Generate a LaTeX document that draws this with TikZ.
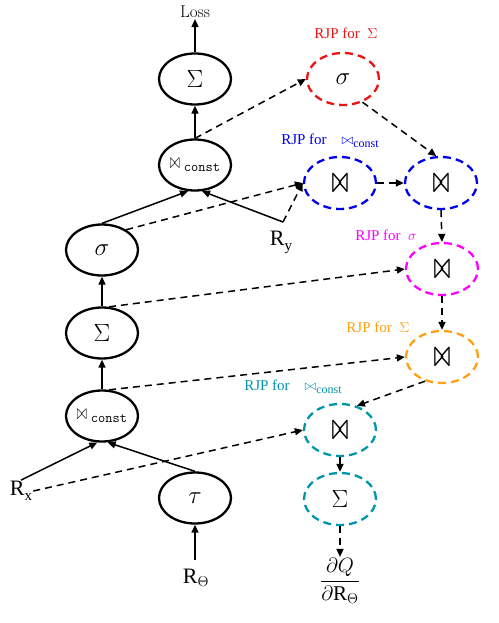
\documentclass[tikz,border=0pt]{standalone}
\usepackage{graphicx}
\usepackage{fontspec}
\newfontfamily\tms{Liberation Serif}
\usetikzlibrary{shapes.geometric,arrows.meta}
\definecolor{rjpred}{RGB}{235,20,20}
\definecolor{rjpblue}{RGB}{0,0,235}
\definecolor{rjpmag}{RGB}{255,0,255}
\definecolor{rjporange}{RGB}{255,160,20}
\definecolor{rjpteal}{RGB}{0,150,170}
\newcommand\mybtg{\resizebox{16pt}{18pt}{$\bowtie$}}
\newcommand\mybt{\makebox[0pt][l]{\mybtg}\kern0.5pt\mybtg}
\newcommand\mybwc{\resizebox{10pt}{10pt}{$\bowtie$}\,{\fontsize{14}{16}\selectfont\raisebox{-3pt}{\texttt{const}}}}
\begin{document}
\begin{tikzpicture}[x=1pt,y=-1pt,
  op/.style={ellipse, draw, line width=2.3pt, minimum width=72pt, minimum height=51pt, inner sep=0pt, font=\fontsize{24}{28}\selectfont},
  rjp/.style={ellipse, draw, line width=2.3pt, dash pattern=on 8pt off 5pt, minimum width=72pt, minimum height=52pt, inner sep=0pt, font=\fontsize{24}{28}\selectfont},
  arr/.style={-{Triangle[length=8pt,width=7pt]}, line width=1.5pt},
  darr/.style={arr, dash pattern=on 7pt off 5pt},
  lbl/.style={font=\tms\fontsize{15}{17}\selectfont},
  rlbl/.style={font=\fontsize{22}{26}\selectfont, inner sep=1pt}]
\useasboundingbox (0,0) rectangle (498,623);
% left column
\node[font=\fontsize{17}{20}\selectfont, inner sep=1pt] (loss) at (195,12) {Loss};
\node[op] (st) at (195,79) {$\Sigma$};
\node[op] (ct) at (195,165) {\mybwc};
\node[op] (sg) at (102,250) {$\sigma$};
\node[op] (sm) at (102,333) {$\Sigma$};
\node[op] (cl) at (102,416) {\mybwc};
\node[op] (tau) at (195,498) {$\tau$};
\node[rlbl] (rt) at (196,578) {{\tms R}$_{\Theta}$};
\coordinate (rtc) at (195,560);
\node[rlbl] (rx) at (21,491) {{\tms R}\raisebox{-5pt}{\tms\fontsize{15}{16}\selectfont x}};
\node[rlbl] (ry) at (281,242) {{\tms R}\raisebox{-5pt}{\tms\fontsize{15}{16}\selectfont y}};
\coordinate (ryc) at (283,222);
% right column
\node[rjp, draw=rjpred] (r1) at (343,79) {$\sigma$};
\node[rjp, draw=rjpblue] (b1) at (340,183) {\mybt};
\node[rjp, draw=rjpblue] (b2) at (441,183) {\mybt};
\node[rjp, draw=rjpmag] (mg) at (442,269) {\mybt};
\node[rjp, draw=rjporange] (or) at (442,357) {\mybt};
\node[rjp, draw=rjpteal] (cy) at (340,430) {\mybt};
\node[rjp, draw=rjpteal] (cs) at (340,499) {$\Sigma$};
\node[font=\fontsize{21}{25}\selectfont, inner sep=1pt] (fr) at (340,581) {$\displaystyle\frac{\partial Q}{\partial\mbox{\tms R}_{\Theta}}$};
% labels
\node[lbl, text=rjpred] at (346,33) {RJP for\ \ $\Sigma$};
\node[lbl, text=rjpblue] at (330,141) {RJP for\quad$\bowtie$\raisebox{-3pt}{\fontsize{12}{13}\selectfont const}};
\node[lbl, text=rjpmag] at (386,235) {RJP for\ \ $\sigma$};
\node[lbl, text=rjporange] at (378,327) {RJP for\ \ $\Sigma$};
\node[lbl, text=rjpteal] at (293,387) {RJP for\quad$\bowtie$\raisebox{-3pt}{\fontsize{12}{13}\selectfont const}};
% solid connectors
\draw[arr] (st.north) -- (loss.south);
\draw[arr] (ct.north) -- (st.south);
\draw[arr] (sg.north) -- (ct.-105);
\draw[arr] (ryc) -- (ct.-75);
\draw[arr] (sm.north) -- (sg.south);
\draw[arr] (cl.north) -- (sm.south);
\draw[arr] (rx.north) -- (cl.-100);
\draw[arr] (tau.north) -- (cl.-78);
\draw[arr] (rtc) -- (tau.south);
% dashed connectors
\draw[darr] (ct.north) -- (r1.west);
\draw[darr] (sg.40) -- (b1.west);
\draw[darr] (ryc) -- (b1.west);
\draw[darr] (sm.75) -- (mg.west);
\draw[darr] (cl.75) -- (or.west);
\draw[darr] (rx.east) -- (cy.west);
\draw[darr] (r1.-50) -- (b2.100);
\draw[darr] (b1.east) -- (b2.west);
\draw[darr] (b2.south) -- (mg.north);
\draw[darr] (mg.south) -- (or.north);
\draw[darr] (or.-125) -- (cy.55);
\draw[darr] (cy.south) -- (cs.north);
\draw[darr] (cs.south) -- (fr.north);
\end{tikzpicture}
\end{document}
